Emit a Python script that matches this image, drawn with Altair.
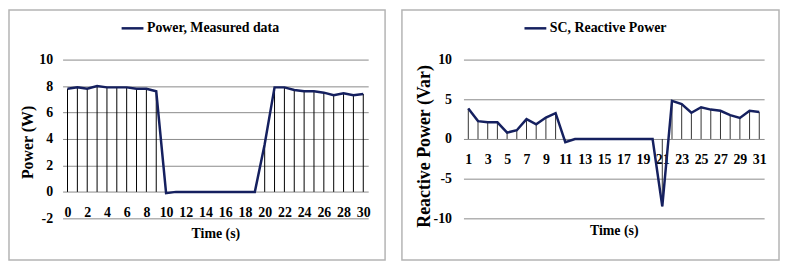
import altair as alt
import pandas as pd

# ---------------- data ----------------
time_power = list(range(0, 31))
power_w = [7.8, 7.9, 7.8, 8.0, 7.9, 7.9, 7.9, 7.8, 7.8, 7.6,
           -0.1, 0.0, 0.0, 0.0, 0.0, 0.0, 0.0, 0.0, 0.0, 0.0,
           3.6, 7.9, 7.9, 7.7, 7.6, 7.6, 7.5, 7.3, 7.45, 7.3, 7.4]
time_reactive = list(range(1, 32))
reactive_var = [3.85, 2.25, 2.1, 2.1, 0.8, 1.1, 2.5, 1.85, 2.7, 3.25,
                -0.4, 0.0, 0.0, 0.0, 0.0, 0.0, 0.0, 0.0, 0.0, 0.0,
                -8.5, 4.8, 4.4, 3.3, 4.0, 3.7, 3.55, 3.0, 2.65, 3.55, 3.4]

power_x_ticks = list(range(0, 31, 2))
reactive_x_ticks = list(range(1, 32, 2))
power_y_ticks = [-2, 0, 2, 4, 6, 8, 10]
reactive_y_ticks = [-10, -5, 0, 5, 10]

power_name = "Power, Measured data"
reactive_name = "SC, Reactive Power"

FONT = "Liberation Serif"
LINE_COLOR = "#15205f"
GRID_COLOR = "#8a8a8a"
BORDER_COLOR = "#b4b4b4"


def panel(t, v, name, xdom, xticks, ydom, yticks, ytitle, ytitle_size,
          width, height, x_offset, x_labpad, x_titley, y_labpad, y_titlex,
          y_titley, legend_x, border, drop_color):
    df = pd.DataFrame({"t": t, "v": v, "series": [name] * len(t)})
    xenc = alt.X("t:Q",
                 scale=alt.Scale(domain=xdom, nice=False, zero=False),
                 axis=alt.Axis(values=xticks, title="Time (s)", offset=x_offset,
                               domain=False, ticks=False, tickSize=0, grid=False,
                               labelPadding=x_labpad, labelBaseline="middle",
                               labelFontSize=14, labelFlush=False, labelOverlap=False,
                               titleFontSize=14, titleY=x_titley, titleBaseline="middle"))
    yenc = alt.Y("v:Q",
                 scale=alt.Scale(domain=ydom, nice=False, zero=False),
                 axis=alt.Axis(values=yticks, title=ytitle, grid=True,
                               gridColor=GRID_COLOR, gridWidth=1,
                               domain=False, ticks=False, tickSize=0,
                               labelPadding=y_labpad, labelFontSize=14,
                               labelFlush=False, labelOverlap=False,
                               labelExpr="'' + datum.value",
                               titleFontSize=ytitle_size, titleX=y_titlex,
                               titleY=y_titley, titleAlign="center",
                               titleBaseline="middle"))
    frame = alt.Chart(pd.DataFrame({"a": [0]})).mark_rect(
        fill="white", fillOpacity=0, stroke=BORDER_COLOR, strokeWidth=1.5
    ).encode(x=alt.value(border[0]), x2=alt.value(border[1]),
             y=alt.value(border[2]), y2=alt.value(border[3]))
    drops = alt.Chart(df).mark_rule(color=drop_color, strokeWidth=1).encode(
        x=xenc, y=yenc, y2=alt.datum(0))
    line = alt.Chart(df).mark_line(strokeWidth=2.5).encode(
        x=xenc, y=yenc,
        color=alt.Color("series:N",
                        scale=alt.Scale(domain=[name], range=[LINE_COLOR]),
                        legend=alt.Legend(orient="none", legendX=legend_x,
                                          legendY=-44, title=None,
                                          symbolType="stroke", symbolSize=484,
                                          symbolStrokeWidth=2.5,
                                          symbolStrokeColor=LINE_COLOR,
                                          labelFont=FONT, labelFontSize=14,
                                          labelFontWeight="bold",
                                          labelColor="black", labelOffset=2,
                                          padding=0)))
    return alt.layer(frame, drops, line).properties(width=width, height=height)


left = panel(time_power, power_w, power_name, [-0.5, 30.5], power_x_ticks,
             [-2, 10], power_y_ticks, "Power (W)", 16, 308, 160,
             x_offset=-26.67, x_labpad=21, x_titley=42, y_labpad=10,
             y_titlex=-35, y_titley=83, legend_x=58,
             border=(-54, 325, -50, 202), drop_color="#000000")

right = panel(time_reactive, reactive_var, reactive_name, [0.5, 31.5],
              reactive_x_ticks, [-10, 10], reactive_y_ticks,
              "Reactive Power (Var)", 18, 303, 160,
              x_offset=-80, x_labpad=21, x_titley=92, y_labpad=12,
              y_titlex=-39, y_titley=87, legend_x=60,
              border=(-62, 318, -50, 202), drop_color="#333333")

chart = alt.hconcat(left, right).resolve_scale(
    x="independent", y="independent", color="independent"
).resolve_legend(color="independent").properties(padding=0).configure_axis(
    labelFont=FONT, titleFont=FONT, labelFontWeight="bold",
    titleFontWeight="bold", labelColor="black", titleColor="black"
).configure_view(strokeWidth=0).configure_concat(spacing=15)

chart.save("out.html", embed_options={"renderer": "svg", "actions": False})
